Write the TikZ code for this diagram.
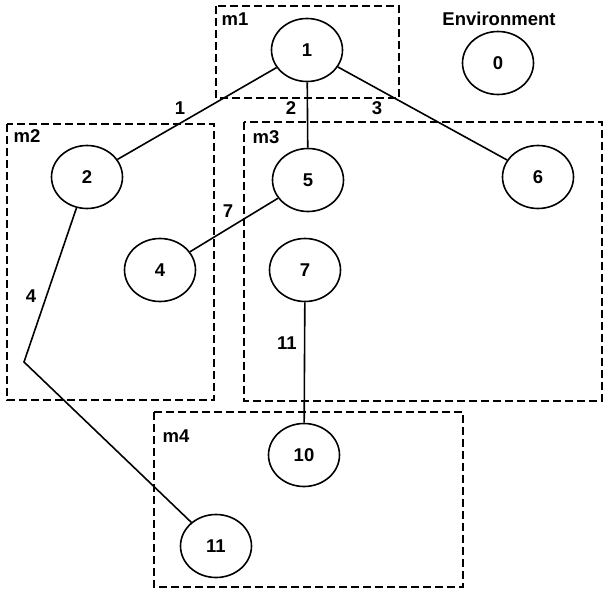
\documentclass[tikz,border=0pt]{standalone}
\usepackage{fontspec}
\setmainfont{Liberation Sans}
\usetikzlibrary{shapes.geometric}
\begin{document}
\begin{tikzpicture}[x=1pt,y=-1pt,
  every node/.style={font=\fontsize{18.5}{22}\selectfont\bfseries},
  proc/.style={ellipse,draw,line width=1.6pt,minimum width=71pt,minimum height=63pt,inner sep=0pt},
  group/.style={draw,line width=1.2pt,dash pattern=on 8pt off 4pt},
  link/.style={line width=1.6pt},
  lbl/.style={inner sep=0pt}]
\useasboundingbox (0,0) rectangle (605,589);
% module boxes
\draw[group] (216,6) rectangle (399,98);
\draw[group] (7,124) rectangle (214,400);
\draw[group] (244,122) rectangle (602,401);
\draw[group] (154,412) rectangle (463,587);
\node[lbl] (lm1) at (235,19) {m1};
\node[lbl] (lm2) at (27,136) {m2};
\node[lbl] (lm3) at (266,137) {m3};
\node[lbl] (lm4) at (176,436) {m4};
\node[lbl] (env) at (499,19) {Environment};
% processes
\node[proc] (n1) at (307,50) {1};
\node[proc] (n0) at (498,63) {0};
\node[proc] (n2) at (87,177) {2};
\node[proc] (n5) at (308,180) {5};
\node[proc] (n6) at (538,177) {6};
\node[proc] (n4) at (160,270) {4};
\node[proc] (n7) at (305,270) {7};
\node[proc] (n10) at (304,455) {10};
\node[proc] (n11) at (216,546) {11};
\coordinate (bend) at (24,362);
% links
\draw[link] (n1) -- (n2);
\draw[link] (n1) -- (n5);
\draw[link] (n1) -- (n6);
\draw[link] (n5) -- (n4);
\draw[link] (n7) -- (n10);
\draw[link] (n2) -- (bend) -- (n11);
% link labels
\node[lbl] (e1) at (180,108) {1};
\node[lbl] (e2) at (291,108) {2};
\node[lbl] (e3) at (377,108) {3};
\node[lbl] (e7) at (228,211) {7};
\node[lbl] (e4) at (31,296) {4};
\node[lbl] (e11) at (287,343) {11};
\end{tikzpicture}
\end{document}
